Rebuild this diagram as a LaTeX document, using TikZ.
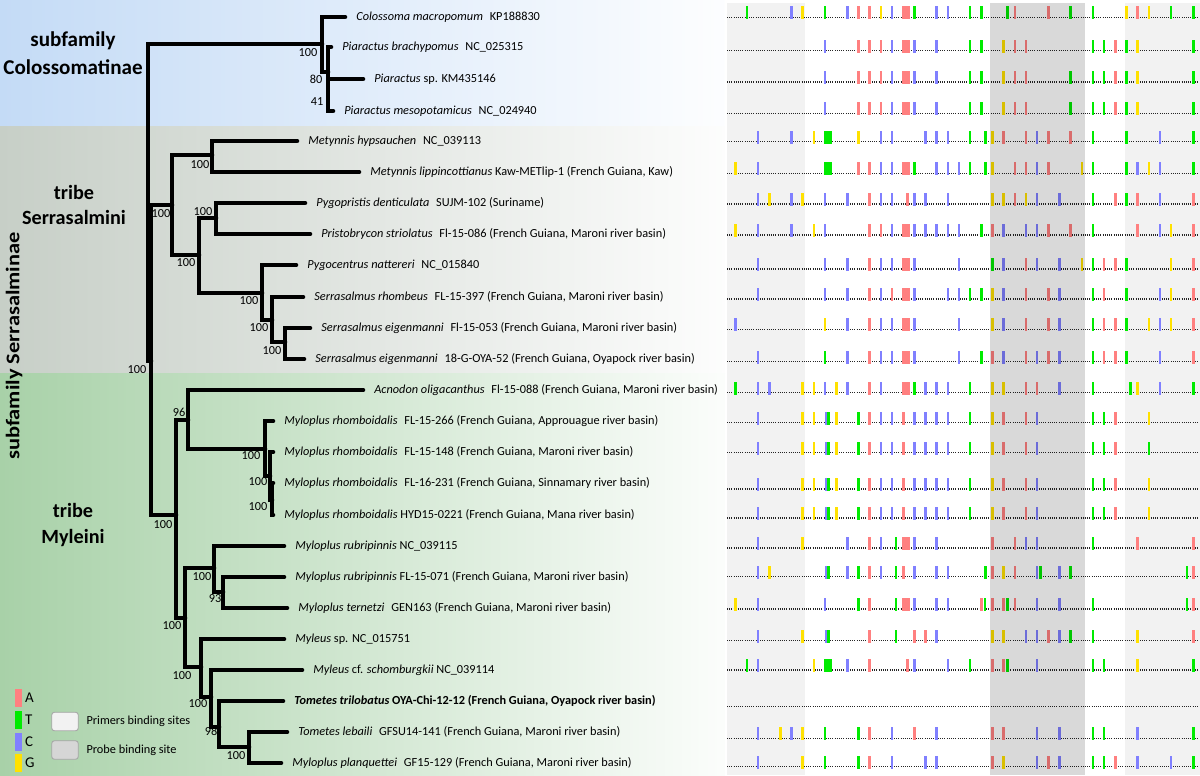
\documentclass[tikz,border=0pt]{standalone}
\usepackage{fontspec}
\setmainfont{Carlito}
\usetikzlibrary{positioning}

\definecolor{colbg}{RGB}{196,219,246}
\definecolor{serbg}{RGB}{199,207,199}
\definecolor{mylbg}{RGB}{168,209,168}
\definecolor{primerbg}{RGB}{242,242,242}
\definecolor{probebg}{RGB}{214,214,214}
\definecolor{baseA}{RGB}{255,128,128}
\definecolor{baseT}{RGB}{0,235,0}
\definecolor{baseC}{RGB}{128,128,255}
\definecolor{baseG}{RGB}{255,225,0}

\newcommand{\tgap}{\hspace{0.55em}}

\tikzset{
  branch/.style={line width=2.6pt, line cap=round},
  tiplabel/.style={inner sep=0pt, font=\fontsize{7}{8}\selectfont},
  boot/.style={inner sep=0pt, font=\fontsize{7}{8}\selectfont},
  grouplabel/.style={align=center, font=\bfseries\fontsize{11.5}{14.5}\selectfont},
  dotrow/.style={line width=0.6pt, dash pattern=on 0.55pt off 0.7pt, black!85},
  nuc/.style={rectangle, inner sep=0pt, minimum width=0.052cm, minimum height=0.26cm, anchor=south},
  nucA/.style={nuc, fill=baseA},
  nucT/.style={nuc, fill=baseT},
  nucC/.style={nuc, fill=baseC},
  nucG/.style={nuc, fill=baseG},
  nucAW/.style={nucA, minimum width=0.164cm},
  nucTW/.style={nucT, minimum width=0.164cm},
  keybox/.style={rectangle, inner sep=0pt, minimum width=0.14cm, minimum height=0.36cm},
  keyletter/.style={inner sep=0pt, font=\fontsize{8.5}{10}\selectfont},
  sitebox/.style={draw=black!35, line width=0.5pt, rounded corners=1.5pt, inner sep=0pt,
    minimum width=0.53cm, minimum height=0.37cm},
}

\begin{document}
\begin{tikzpicture}[x=0.02cm, y=-0.02cm]
  \useasboundingbox (0,0) rectangle (1200,775);

  % clade backgrounds
  \shade[left color=colbg, right color=white!96!colbg] (0,0) rectangle (725,126);
  \shade[left color=serbg, right color=white!96!serbg] (0,126) rectangle (725,373);
  \shade[left color=mylbg, right color=white!96!mylbg] (0,373) rectangle (725,775);

  % alignment panel
  \fill[primerbg] (727,3) rectangle (805,775);
  \fill[primerbg] (1125,3) rectangle (1200,775);
  \foreach \ry in {17.3,50.7,82,113.3,141.7,173.3,204,235,269,299,329.3,361.7,392.7,
                   422.7,452.7,489,518,548,576.7,609,640.7,670,706.7,738.3,766.7} {
    \draw[dotrow] (727,\ry) -- (1197,\ry);
  }
  \foreach \r/\ry/\bars in {
    1/17.3/{4/T,20/C,24/G,32/T,40/C,44/A,48/A,52/G,56/C,61/AW,64/T,72/C,76/C,84/T,88/T,97.3/T,100/A,112/A,120/T,128/T,140/G,144/A,148/G,156/T,164/T},
    2/50.7/{32/C,44/A,48/A,52/A,56/C,61/AW,64/C,72/C,84/T,88/T,96/G,100/A,104/A,128/T,132/T,136/A,140/T,144/G,164/T},
    3/82/{32/C,44/A,48/A,52/A,56/C,61/AW,64/C,72/C,84/T,88/T,96/G,100/A,104/A,120/T,128/T,132/T,136/A,140/T,144/G,164/T},
    4/113.3/{32/C,44/A,48/A,52/A,56/C,61/AW,64/C,72/C,84/T,88/T,96/G,100/A,104/A,120/T,128/T,132/T,136/A,140/T,144/G,164/T},
    5/141.7/{8/C,20/C,28/G,33/TW,44/G,52/C,56/C,68/C,72/C,76/C,84/T,89.5/T,92/G,96/A,104/A,108/C,112/A,120/A,128/T,140/T,152/C,164/T},
    6/173.3/{0/G,8/C,33/TW,44/A,48/A,52/C,56/C,61/AW,64/T,72/C,76/C,80/C,84/T,89.5/T,92/G,100/A,104/A,108/C,112/A,124/G,128/T,140/T,144/C,148/G,152/C,164/T},
    7/204/{8/C,12/G,20/C,24/G,32/C,40/C,48/A,52/C,56/C,61.5/A,64/C,68/C,76/C,92/G,96/G,100/A,104/G,108/C,116/C,128/T,136/A,140/T,144/A,152/C,164/A},
    8/235/{0/G,8/C,20/C,28/G,32/C,48/A,52/A,56/C,61/AW,64/C,68/C,72/C,76/C,80/C,88/T,92/A,96/C,104/C,108/C,112/A,120/A,128/T,144/A,152/C,156/G,164/A},
    9/269/{8/C,32/C,40/C,48/A,52/C,56/C,61/AW,64/C,80/C,92/T,96/C,104/A,108/C,116/C,124/G,128/T,132/A,136/A,140/T,156/G,164/A},
    10/299/{8/C,32/C,40/C,48/A,52/C,56/A,61/AW,64/C,76/C,80/C,84/T,88/T,92/G,96/C,104/A,112/A,116/C,128/T,132/A,140/T,152/C,156/G,164/A},
    11/329.3/{0/C,32/G,40/C,48/A,52/C,56/C,61/AW,64/C,80/C,92/G,96/C,104/A,112/A,116/C,128/T,132/A,136/A,140/T,148/G,152/C,156/G,164/A},
    12/361.7/{8/C,32/T,40/C,48/A,52/C,56/C,61/AW,64/C,80/C,88/T,92/A,96/C,104/A,108/C,112/A,116/C,128/T,132/A,136/A,140/T,152/C,164/A},
    13/392.7/{0/T,8/C,12/C,24/G,28/G,32/C,36/G,40/C,48/A,52/C,61/AW,64/T,68/C,72/C,76/C,84/T,92/G,96/G,104/A,108/A,116/C,128/T,141.5/T,144/G,152/C,164/T},
    14/422.7/{8/C,24/G,28/G,32.3/C,33.3/T,36/G,44/T,48/A,52/C,56/C,60/A,64/C,68/C,72/C,76/C,84/T,92/G,96/A,104/A,108/C,128/T,132/T,136/A,148/G},
    15/452.7/{8/C,24/G,28/G,32.3/C,33.3/T,36/G,44/T,48/A,52/C,56/C,60/A,64/C,68/C,72/C,76/C,84/T,92/G,96/A,104/A,108/C,128/T,132/T,136/A,148/T},
    16/489/{8/C,24/G,28/G,32.3/C,33.3/T,36/G,44/T,48/A,52/C,56/C,60/A,64/C,68/C,72/C,76/C,84/T,92/G,96/A,104/A,108/C,128/T,132/T,136/A,148/G},
    17/518/{8/C,24/G,28/G,32.3/C,33.3/T,36/G,44/T,48/A,52/C,56/C,60/A,64/C,68/C,72/C,76/C,84/T,92/G,96/A,104/A,108/C,128/T,132/T,136/A,148/G},
    18/548/{8/C,24/G,40/C,48/A,52/C,57.4/T,61/AW,64/C,72/C,92/A,100/A,104/C,108/C,128/T,144/A,164/A},
    19/576.7/{8/C,12/G,32.3/C,33.3/T,40/C,44/T,48/A,52/C,57.4/T,60/A,64/C,72/C,76/C,89.5/T,92/A,96/G,100/A,108/C,109.2/T,116/C,120/T,161.6/T,164/A},
    20/609/{0/G,8/C,32/C,44/T,48/A,57.4/T,61/AW,64/C,72/C,76/C,88/A,89.3/T,92/A,96/A,97.3/T,100/A,108/C,116/C,128/T,161.6/T,164/A},
    21/640.7/{8/C,24/G,32.3/C,33.3/T,48/A,57.4/T,64/A,68/A,72/C,92/G,96/G,104/C,108/C,112/A,116/C,120/T,128/T,144/G,164/A},
    22/670/{4/T,8/C,28/G,33/TW,40/C,48/A,61.5/A,64/C,76/C,84/T,92/A,96/A,97.3/T,108/C,128/T,132/T,144/G,164/T},
    24/738.3/{8/C,16/G,20/C,24/G,32/T,44/T,48/A,56/C,64/A,72/C,92/A,96/A,108/C,116/C,128/T,132/T,144/C,164/T},
    25/766.7/{8/C,24/G,32/T,44/T,48/A,56/C,68/C,72/C,92/A,96/G,108/C,112/A,116/C,128/T,132/T,136/A,144/C,156/C,164/T}} {
    \foreach \p/\b [count=\k] in \bars {
      \node[nuc\b] (nt\r-\k) at ({735.7+2.7915*\p},{\ry+2.5}) {};
    }
  }
  % probe site darkens what lies under it
  \fill[black, fill opacity=0.15] (990,3) rectangle (1085,775);

  % tree: inner nodes
  \foreach \n/\x/\y in {R/148/200, Col/322/44, Pia/328/72, Ser/151/361,
    S1/172/205, M1/212/155, S2/199/255, S3/216/218, S4/262/293, S5/272/320, S6/285/342,
    My/176/515, A1/188/420, R1/265/449, R2/270/476, R3/272/500,
    B1/185/618, B2/214/568, B3/223/592, C1/201/667, C2/211/697, C3/219/727, C4/249/747} {
    \coordinate (\n) at (\x,\y);
  }

  % tips and their labels
  \foreach \i/\x/\y/\lab in {
    1/345/17/{\textit{Colossoma macropomum}\tgap KP188830},
    2/331/47/{\textit{Piaractus brachypomus}\tgap NC\_025315},
    3/363/79/{\textit{Piaractus} sp. KM435146},
    4/333/111/{\textit{Piaractus mesopotamicus}\tgap NC\_024940},
    5/297/141/{\textit{Metynnis hypsauchen}\tgap NC\_039113},
    6/359/172/{\textit{Metynnis lippincottianus} Kaw-METlip-1 (French Guiana, Kaw)},
    7/305/203/{\textit{Pygopristis denticulata}\tgap SUJM-102 (Suriname)},
    8/310/234/{\textit{Pristobrycon striolatus}\tgap Fl-15-086 (French Guiana, Maroni river basin)},
    9/296/265/{\textit{Pygocentrus nattereri}\tgap NC\_015840},
    10/303/297/{\textit{Serrasalmus rhombeus}\tgap FL-15-397 (French Guiana, Maroni river basin)},
    11/310/328/{\textit{Serrasalmus eigenmanni}\tgap Fl-15-053 (French Guiana, Maroni river basin)},
    12/304/359/{\textit{Serrasalmus eigenmanni}\tgap 18-G-OYA-52 (French Guiana, Oyapock river basin)},
    13/363/390/{\textit{Acnodon oligacanthus}\tgap Fl-15-088 (French Guiana, Maroni river basin)},
    14/273/421/{\textit{Myloplus rhomboidalis}\tgap FL-15-266 (French Guiana, Approuague river basin)},
    15/273/452/{\textit{Myloplus rhomboidalis}\tgap FL-15-148 (French Guiana, Maroni river basin)},
    16/273/483/{\textit{Myloplus rhomboidalis}\tgap FL-16-231 (French Guiana, Sinnamary river basin)},
    17/273/515/{\textit{Myloplus rhomboidalis} HYD15-0221 (French Guiana, Mana river basin)},
    18/284/546/{\textit{Myloplus rubripinnis} NC\_039115},
    19/284/577/{\textit{Myloplus rubripinnis} FL-15-071 (French Guiana, Maroni river basin)},
    20/287/608/{\textit{Myloplus ternetzi}\tgap GEN163 (French Guiana, Maroni river basin)},
    21/284/639/{\textit{Myleus} sp. NC\_015751},
    22/302/670/{\textit{Myleus} cf. \textit{schomburgkii} NC\_039114},
    23/283/701/{\bfseries\textit{Tometes trilobatus} OYA-Chi-12-12 (French Guiana, Oyapock river basin)},
    24/287/732/{\textit{Tometes lebaili}\tgap GFSU14-141 (French Guiana, Maroni river basin)},
    25/281/763/{\textit{Myloplus planquettei}\tgap GF15-129 (French Guiana, Maroni river basin)}} {
    \coordinate (t\i) at (\x,\y);
    \node[tiplabel, right=0.22cm of t\i] (l\i) {\lab};
  }

  % branches
  \foreach \p/\c in {R/Col, R/Ser, Col/t1, Col/Pia, Pia/t2, Pia/t3, Pia/t4,
    Ser/S1, Ser/My, S1/M1, S1/S2, M1/t5, M1/t6, S2/S3, S2/S4, S3/t7, S3/t8,
    S4/t9, S4/S5, S5/t10, S5/S6, S6/t11, S6/t12,
    My/A1, My/B1, A1/t13, A1/R1, R1/t14, R1/R2, R2/t15, R2/R3, R3/t16, R3/t17,
    B1/B2, B1/C1, B2/t18, B2/B3, B3/t19, B3/t20,
    C1/t21, C1/C2, C2/t22, C2/C3, C3/t23, C3/C4, C4/t24, C4/t25} {
    \draw[branch] (\p) |- (\c);
  }

  % support values
  \foreach \x/\y/\v [count=\k] in {308/53/100, 316/79/80, 317/102/41, 200/165/100,
    161/214/100, 203/212/100, 186/263/100, 249/301/100, 259/328/100, 272/351/100,
    137/370/100, 179/412/96, 251/456/100, 258/482/100, 258/507/100, 163/525/100,
    202/577/100, 215/599/93, 172/626/100, 182/676/100, 198/704/100, 211/731/98,
    236/756/100} {
    \node[boot] (bs\k) at (\x,\y) {\v};
  }

  % group names
  \node[grouplabel, font=\bfseries\fontsize{12}{16}\selectfont] (colo) at (73,53) {subfamily\\Colossomatinae};
  \node[grouplabel] (serr) at (74,205) {tribe\\Serrasalmini};
  \node[grouplabel] (myle) at (73,525) {tribe\\Myleini};
  \node[rotate=90, inner sep=0pt, font=\bfseries\fontsize{11}{12}\selectfont] (subs) at (14,346)
    {\scalebox{1.16}[1]{subfamily Serrasalminae}};

  % legend
  \foreach \b/\y in {A/698, T/720, C/742, G/763} {
    \node[keybox, fill=base\b] (key\b) at (18.5,\y) {};
    \node[keyletter, anchor=west] (let\b) at ([xshift=0.05cm]key\b.east) {\b};
  }
  \node[sitebox, fill=primerbg] (prim) at (65,721.5) {};
  \node[sitebox, fill=probebg] (prob) at (65,750) {};
  \node[tiplabel, right=0.15cm of prim] (primtext) {Primers binding sites};
  \node[tiplabel, right=0.15cm of prob] (probtext) {Probe binding site};
\end{tikzpicture}
\end{document}
